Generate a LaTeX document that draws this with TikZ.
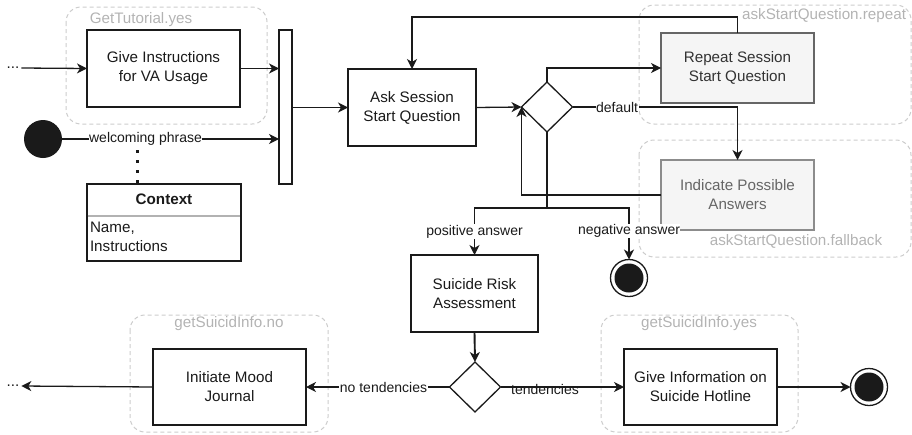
\documentclass[tikz,border=0pt]{standalone}
\usepackage{fontspec}
\setmainfont{Liberation Sans}
\usetikzlibrary{shapes.geometric,arrows.meta,calc}
\definecolor{grp}{HTML}{CCCCCC}
\definecolor{grptxt}{HTML}{B3B3B3}
\definecolor{ink}{HTML}{1A1A1A}
\definecolor{softfill}{HTML}{F5F5F5}
\definecolor{softdraw}{HTML}{666666}
\definecolor{softtxt}{HTML}{333333}
\definecolor{fbtxt}{HTML}{666666}
\definecolor{fbdraw}{HTML}{8C8C8C}
\begin{document}
\begin{tikzpicture}[x=1pt,y=-1pt,
  every node/.style={inner sep=0pt,outer sep=0pt},
  act/.style={draw=ink,line width=1.3pt,minimum width=153pt,minimum height=77pt,align=center,
    font=\fontsize{15.2}{19}\selectfont,text=ink},
  softact/.style={act,fill=softfill,draw=softdraw,text=softtxt,minimum height=70pt},
  fbact/.style={act,fill=softfill,draw=fbdraw,text=fbtxt,minimum height=70pt},
  grpbox/.style={draw=grp,line width=1pt,dash pattern=on 4pt off 3pt,rounded corners=15pt},
  grplbl/.style={text=grptxt,font=\fontsize{15.2}{18}\selectfont},
  conn/.style={draw=ink,line width=1.3pt},
  tip/.tip={Stealth[length=10pt,width=10pt,inset=3pt]},
  arr/.style={conn,-tip},
  lbl/.style={fill=white,inner sep=0.5pt,text=ink,font=\fontsize{14}{16}\selectfont},
  decision/.style={diamond,draw=ink,line width=1.3pt,fill=white,minimum width=51pt,minimum height=50pt,inner sep=0pt},
  initnode/.style={circle,fill=ink,minimum size=38pt},
  finalnode/.style={circle,draw=ink,line width=1.3pt,fill=white,minimum size=37pt,
    path picture={\fill[ink] (path picture bounding box.center) circle (14.5pt);}},
  ellip/.style={text=ink,font=\fontsize{15.2}{18}\selectfont,inner sep=2pt},
  ctxdots/.style={draw=ink,line width=3pt,dash pattern=on 3pt off 7pt}
]
\useasboundingbox (0,0) rectangle (912,434);

% groups
\draw[grpbox] (66,7) rectangle (267,124);
\node[grplbl] (gtut) at (141,20) {GetTutorial.yes};
\draw[grpbox] (639,5) rectangle (911,124);
\node[grplbl,anchor=east] (grep) at (906,16) {askStartQuestion.repeat};
\draw[grpbox] (639,140) rectangle (911,257);
\node[grplbl] (gfb) at (796,241) {askStartQuestion.fallback};
\draw[grpbox] (130,315) rectangle (328,432);
\node[grplbl] (gno) at (229,324) {getSuicidInfo.no};
\draw[grpbox] (601,315) rectangle (798,432);
\node[grplbl] (gyes) at (699,324) {getSuicidInfo.yes};

% nodes
\node[ellip] (dots1) at (13,68) {...};
\node[act] (instr) at (163.5,68.5) {Give Instructions\\for VA Usage};
\node[draw=ink,line width=1.3pt,minimum width=13pt,minimum height=154pt] (bar) at (285.5,107) {};
\node[initnode] (start) at (43,139) {};
\node[draw=ink,line width=1.3pt,minimum width=154pt,minimum height=77pt] (ctx) at (164,222.5) {};
\draw[draw=gray!60,line width=1.3pt] (87.6,216) -- (240.4,216);
\node[font=\fontsize{15.2}{18}\selectfont\bfseries,text=ink] (ctxh) at (164,199) {Context};
\node[anchor=north west,align=left,font=\fontsize{15.2}{19}\selectfont,text=ink] (ctxb) at (90,222) {Name,\\Instructions};
\node[act,minimum width=128pt] (ask) at (412,107.5) {Ask Session\\Start Question};
\node[decision] (d1) at (547,107) {};
\node[softact] (rep) at (737.5,68) {Repeat Session\\Start Question};
\node[fbact] (ind) at (737.5,195) {Indicate Possible\\Answers};
\node[act,minimum width=127pt] (sra) at (474.5,293.5) {Suicide Risk\\Assessment};
\node[finalnode] (fin1) at (629,278) {};
\node[decision] (d2) at (475,387) {};
\node[act,minimum height=76pt] (info) at (700.5,387) {Give Information on\\Suicide Hotline};
\node[finalnode] (fin2) at (869,387) {};
\node[act,minimum height=76pt] (mood) at (229.5,387) {Initiate Mood\\Journal};
\node[ellip] (dots2) at (13,386) {...};

\coordinate (dx) at (137,0);

% connectors
\draw[arr] (dots1.east) -- (instr.west);
\draw[arr] (instr.east) -- (instr.east -| bar.west);
\draw[arr] (start.east) -- (start -| bar.west) node[lbl,pos=0.385] (wp) {welcoming phrase};
\draw[ctxdots] (wp.south -| dx) ++(0,4) -- (ctx.north -| dx);
\draw[arr] (bar.east |- ask.west) -- (ask.west);
\draw[arr] (ask.east) -- (d1.west);
\draw[arr] (d1.north) |- (rep.west);
\draw[arr] (rep.north) -- ++(0,-16) -| (ask.north);
\draw[arr] (d1.east) -| (ind.north) node[lbl,pos=0.135] (ldef) {default};
\draw[arr] (ind.west) -| (d1.west);
\draw[arr] (d1.south) -- ++(0,76) coordinate (split) -| (sra.north) node[lbl,pos=0.75] (lpos) {positive answer};
\draw[arr] (split) -| (fin1.north) node[lbl,pos=0.72] (lneg) {negative answer};
\draw[conn,line width=1.9pt,-tip] (sra.south) -- (d2.north);
\draw[arr] (d2.east) -- (info.west);
\node[text=ink,font=\fontsize{14}{16}\selectfont] (ltend) at (545,389) {tendencies};
\draw[arr] (info.east) -- (fin2.west);
\draw[arr] (d2.west) -- (mood.east) node[lbl,pos=0.46] (lnot) {no tendencies};
\draw[arr] (mood.west) -- (dots2.east);
\end{tikzpicture}
\end{document}
